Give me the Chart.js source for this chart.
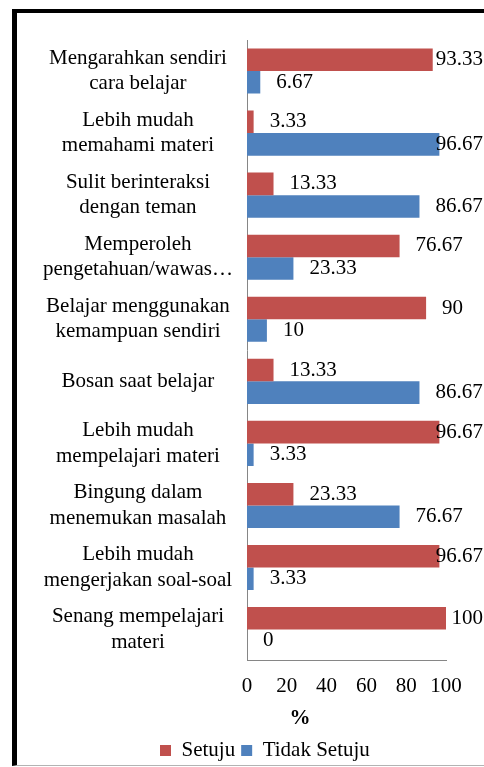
<!DOCTYPE html>
<html>
<head>
<meta charset="utf-8">
<script src="https://cdn.jsdelivr.net/npm/chart.js@4.4.0/dist/chart.umd.min.js"></script>
<style>
  body { margin: 0; background: #fff; }
  #frame {
    position: absolute; left: 12px; top: 9px;
    width: 467px; height: 752px;
    border-left: 5px solid #000;
    border-top: 4px solid #000;
    border-bottom: 1px solid #b3b3b3;
  }
  canvas { display: block; }
</style>
</head>
<body>
<div id="frame"><canvas id="myChart" width="467" height="752"></canvas></div>
<script>
// categories top to bottom
const categories = [
  ["Mengarahkan sendiri", "cara belajar"],
  ["Lebih mudah", "memahami materi"],
  ["Sulit berinteraksi", "dengan teman"],
  ["Memperoleh", "pengetahuan/wawas…"],
  ["Belajar menggunakan", "kemampuan sendiri"],
  ["Bosan saat belajar"],
  ["Lebih mudah", "mempelajari materi"],
  ["Bingung dalam", "menemukan masalah"],
  ["Lebih mudah", "mengerjakan soal-soal"],
  ["Senang mempelajari", "materi"]
];
const setuju = [93.33, 3.33, 13.33, 76.67, 90, 13.33, 96.67, 23.33, 96.67, 100];
const tidakSetuju = [6.67, 96.67, 86.67, 23.33, 10, 86.67, 3.33, 76.67, 3.33, 0];
const xTicks = [0, 20, 40, 60, 80, 100];

Chart.defaults.font.family = '"Liberation Serif", "Times New Roman", serif';
Chart.defaults.font.size = 21;
Chart.defaults.color = "#000";

// value labels just right of the bar end, kept inside the canvas
const valueLabels = {
  id: "valueLabels",
  afterDatasetsDraw(chart) {
    const ctx = chart.ctx;
    ctx.save();
    ctx.font = '21px "Liberation Serif"';
    ctx.fillStyle = "#000";
    ctx.textBaseline = "middle";
    ctx.textAlign = "left";
    chart.data.datasets.forEach((ds, i) => {
      chart.getDatasetMeta(i).data.forEach((bar, j) => {
        const txt = String(ds.data[j]);
        const w = ctx.measureText(txt).width;
        const x = Math.min(bar.x + 16, chart.width - w - 1);
        ctx.fillText(txt, x, bar.y);
      });
    });
    ctx.restore();
  }
};

// the category labels are wider than the y axis box, so let them draw to the left edge
const wideLabels = {
  id: "wideLabels",
  afterLayout(chart) {
    chart.scales.y.left = 0;
  }
};

const ctx = document.getElementById("myChart");
new Chart(ctx, {
  type: "bar",
  data: {
    labels: categories,
    datasets: [
      { label: "Setuju", data: setuju, backgroundColor: "#C0504D" },
      { label: "Tidak Setuju", data: tidakSetuju, backgroundColor: "#4F81BD" }
    ]
  },
  options: {
    indexAxis: "y",
    responsive: false,
    animation: false,
    events: [],
    datasets: { bar: { barPercentage: 1, categoryPercentage: 0.727 } },
    layout: { padding: { left: 137, right: 38, top: 27, bottom: -6 } },
    scales: {
      x: {
        min: 0, max: 100,
        afterBuildTicks: (axis) => { axis.ticks = xTicks.map(v => ({ value: v })); },
        grid: { display: false, drawTicks: false },
        border: { display: true, color: "#868686", width: 1 },
        ticks: { padding: 13, maxRotation: 0, autoSkip: false }
      },
      y: {
        grid: { display: false, drawTicks: false },
        border: { display: true, color: "#868686", width: 1 },
        ticks: { crossAlign: "center", padding: 14, autoSkip: false },
        afterFit: (axis) => {
          axis.width = 93;
          axis.paddingTop = 0;
          axis.paddingBottom = 0;
        }
      }
    },
    plugins: {
      tooltip: { enabled: false },
      title: {
        display: true,
        text: "%",
        position: "bottom",
        weight: 500,
        font: { size: 21, weight: "bold" },
        padding: { top: -6, bottom: 3 }
      },
      legend: {
        position: "bottom",
        align: "start",
        labels: { boxWidth: 11, boxHeight: 11, padding: 6, font: { size: 21 } }
      }
    }
  },
  plugins: [valueLabels, wideLabels]
});
</script>
</body>
</html>
